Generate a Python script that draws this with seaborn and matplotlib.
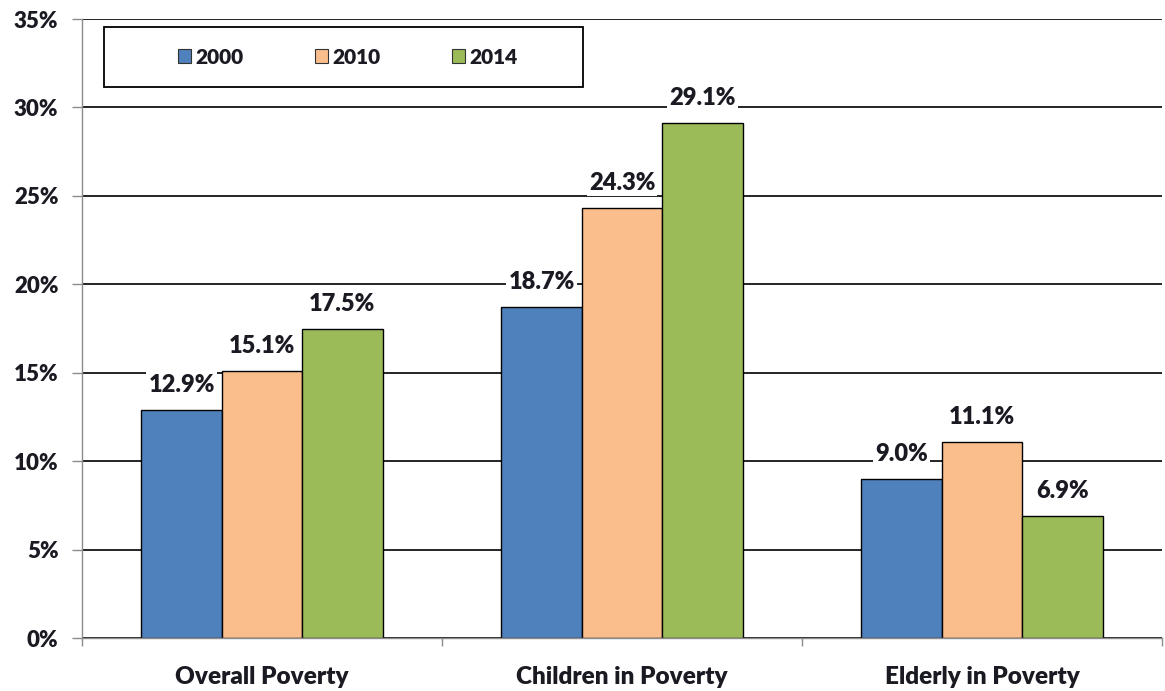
import matplotlib
matplotlib.use("Agg")
import matplotlib.pyplot as plt
import numpy as np
import pandas as pd
import seaborn as sns
from matplotlib.patches import Rectangle
from matplotlib.ticker import FixedLocator, PercentFormatter

categories = ["Overall Poverty", "Children in Poverty", "Elderly in Poverty"]
years = ["2000", "2010", "2014"]
rate_2000 = [12.9, 18.7, 9.0]
rate_2010 = [15.1, 24.3, 11.1]
rate_2014 = [17.5, 29.1, 6.9]
y_ticks = [0, 5, 10, 15, 20, 25, 30, 35]

colors = ["#4F81BD", "#F9BE8C", "#9BBB59"]
text_color = "#1A1A22"
axis_gray = "#8C8C8C"

df = pd.DataFrame({
    "category": categories * 3,
    "year": [y for y in years for _ in categories],
    "rate": rate_2000 + rate_2010 + rate_2014,
})

sns.set_theme(style="white")
plt.rcParams["font.family"] = ["Lato", "DejaVu Sans"]
WEIGHT = "heavy"

fig = plt.figure(figsize=(11.65, 6.91), dpi=100)
ax = fig.add_axes([0.0704, 0.0767, 0.927, 0.8958])

sns.barplot(data=df, x="category", y="rate", hue="year", order=categories,
            hue_order=years, palette=colors, width=0.67, gap=0,
            edgecolor="black", linewidth=1.0, saturation=1, ax=ax)

ax.set_ylim(0, 35)
ax.set_xlim(-0.5, 2.5)
ax.yaxis.set_major_locator(FixedLocator(y_ticks))
ax.yaxis.set_major_formatter(PercentFormatter(decimals=0))
ax.set_axisbelow(True)
ax.yaxis.grid(True, color="black", linewidth=1.2)
ax.xaxis.grid(False)

for side in ["top", "right"]:
    ax.spines[side].set_visible(False)
for side in ["left", "bottom"]:
    ax.spines[side].set_color(axis_gray)
    ax.spines[side].set_linewidth(1.0)

ax.tick_params(axis="y", which="major", length=7, width=1, color=axis_gray,
               pad=10, labelsize=16, labelcolor=text_color, left=True)
ax.xaxis.set_minor_locator(FixedLocator([-0.5, 0.5, 1.5, 2.5]))
ax.tick_params(axis="x", which="minor", length=6, width=1, color=axis_gray,
               bottom=True)
ax.tick_params(axis="x", which="major", length=0, pad=20, labelsize=17.5,
               labelcolor=text_color)
for lbl in ax.get_xticklabels() + ax.get_yticklabels():
    lbl.set_fontweight(WEIGHT)

ax.set_xlabel("")
ax.set_ylabel("")

for container in ax.containers:
    ax.bar_label(container, fmt="%.1f%%", padding=10, fontsize=17,
                 fontweight=WEIGHT, color=text_color,
                 bbox=dict(facecolor="white", edgecolor="none", pad=1.5))

# legend entries without frame, plus an Excel-style square box around them
handles, labels = ax.get_legend_handles_labels()
leg = ax.legend(handles, labels, loc="center", ncol=3,
                bbox_to_anchor=(0.246, 0.9386), frameon=False, fontsize=15,
                handlelength=0.63, handleheight=0.63, handletextpad=0.2,
                columnspacing=3.45, borderpad=0, borderaxespad=0)
for t in leg.get_texts():
    t.set_fontweight(WEIGHT)
    t.set_color(text_color)
for h in leg.legend_handles:
    h.set_edgecolor("#333333")
    h.set_linewidth(0.8)

ax.add_patch(Rectangle((0.0204, 0.890), 0.4435, 0.097, transform=ax.transAxes,
                       facecolor="white", edgecolor="black", linewidth=1.3,
                       zorder=4, clip_on=False))
leg.set_zorder(5)

fig.savefig("out.png", dpi=100)
